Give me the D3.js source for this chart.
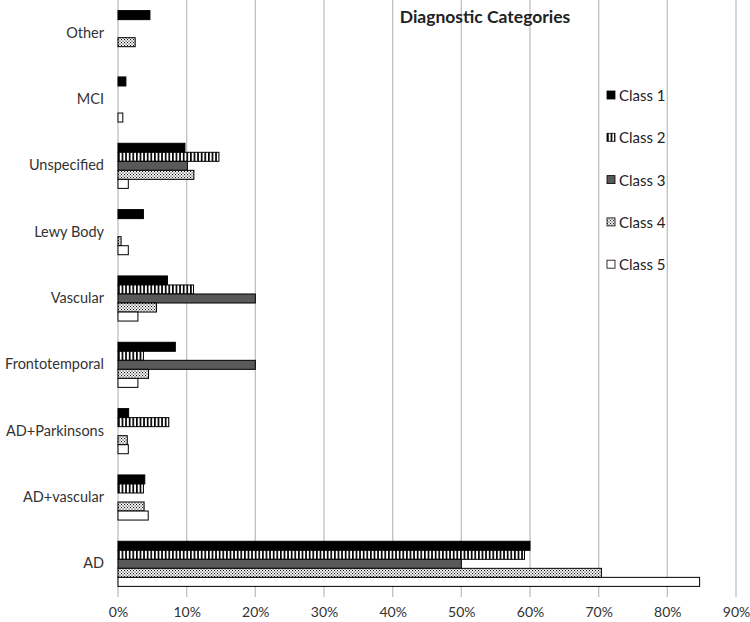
<!DOCTYPE html>
<html>
<head>
<meta charset="utf-8">
<script src="https://cdn.jsdelivr.net/npm/d3@7"></script>
<style>
  body { margin: 0; background: #fff; }
  svg text { font-family: "Lato", "Open Sans", sans-serif; }
</style>
</head>
<body>
<div id="chart"></div>
<script>
// categories, top to bottom as drawn
var categories = ["Other", "MCI", "Unspecified", "Lewy Body", "Vascular", "Frontotemporal", "AD+Parkinsons", "AD+vascular", "AD"];
var classes = ["Class 1", "Class 2", "Class 3", "Class 4", "Class 5"];

// percentage values per class, same order as categories
var class1 = [4.65, 1.15, 9.75, 3.7, 7.2, 8.35, 1.55, 3.9, 60.0];
var class2 = [0, 0, 14.7, 0, 11.0, 3.7, 7.4, 3.7, 59.2];
var class3 = [0, 0, 10.1, 0, 20.0, 20.0, 0, 0, 50.0];
var class4 = [2.5, 0, 11.05, 0.45, 5.6, 4.45, 1.35, 3.8, 70.4];
var class5 = [0, 0.7, 1.5, 1.5, 2.9, 2.9, 1.5, 4.4, 84.7];

var xTicks = [0, 10, 20, 30, 40, 50, 60, 70, 80, 90];

var series = [class1, class2, class3, class4, class5];

var width = 750, height = 622;
var margin = { left: 118, right: 14, top: 0, bottom: 25 };

var svg = d3.select("#chart").append("svg")
    .attr("width", width)
    .attr("height", height);

// fill patterns
var defs = svg.append("defs");

var stripes = defs.append("pattern")
    .attr("id", "stripes")
    .attr("patternUnits", "userSpaceOnUse")
    .attr("width", 3.6).attr("height", 4);
stripes.append("rect").attr("width", 3.6).attr("height", 4).attr("fill", "#fff");
stripes.append("rect").attr("width", 1.7).attr("height", 4).attr("fill", "#000");

var dots = defs.append("pattern")
    .attr("id", "dots")
    .attr("patternUnits", "userSpaceOnUse")
    .attr("width", 3).attr("height", 3);
dots.append("rect").attr("width", 3).attr("height", 3).attr("fill", "#fff");
dots.append("rect").attr("x", 0).attr("y", 0).attr("width", 1.1).attr("height", 1.1).attr("fill", "#111");
dots.append("rect").attr("x", 1.5).attr("y", 1.5).attr("width", 1.1).attr("height", 1.1).attr("fill", "#111");

var fills = ["#000", "url(#stripes)", "#595959", "url(#dots)", "#fff"];

var plotW = width - margin.left - margin.right;
var plotH = height - margin.top - margin.bottom;

var g = svg.append("g")
    .attr("transform", "translate(" + margin.left + "," + margin.top + ")");

var x = d3.scaleLinear().domain([0, 90]).range([0, plotW]);
var y = d3.scaleBand().domain(categories).range([0, plotH]).paddingInner(0.32).paddingOuter(0.16);
var ySub = d3.scaleBand().domain(classes).range([0, y.bandwidth()]);

// gridlines
g.append("g")
    .attr("class", "grid")
    .selectAll("line")
    .data(xTicks)
    .enter().append("line")
    .attr("x1", function (d) { return x(d); })
    .attr("x2", function (d) { return x(d); })
    .attr("y1", 0)
    .attr("y2", plotH)
    .attr("stroke", "#c0c0c0")
    .attr("stroke-width", 1.3);

// x axis labels
var xAxis = d3.axisBottom(x)
    .tickValues(xTicks)
    .tickSize(0)
    .tickPadding(10)
    .tickFormat(function (d) { return d + "%"; });

var ax = g.append("g")
    .attr("transform", "translate(0," + plotH + ")")
    .call(xAxis);
ax.select(".domain").remove();
ax.selectAll("text").attr("font-size", "14px").attr("fill", "#333")
    .style("font-family", "Lato, sans-serif");

// y axis labels
var yAxis = d3.axisLeft(y).tickSize(0).tickPadding(14);
var ay = g.append("g").call(yAxis);
ay.select(".domain").remove();
ay.selectAll("text").attr("font-size", "14.5px").attr("fill", "#333")
    .style("font-family", "Lato, sans-serif");

// bars
series.forEach(function (vals, i) {
    var rows = vals.map(function (v, j) { return { cat: categories[j], value: v }; })
        .filter(function (d) { return d.value > 0; });
    g.append("g")
        .selectAll("rect")
        .data(rows)
        .enter().append("rect")
        .attr("x", x(0))
        .attr("y", function (d) { return y(d.cat) + ySub(classes[i]); })
        .attr("width", function (d) { return x(d.value) - x(0); })
        .attr("height", ySub.bandwidth())
        .attr("fill", fills[i])
        .attr("stroke", "#000")
        .attr("stroke-width", 1);
});

// title
svg.append("text")
    .attr("x", 485)
    .attr("y", 23)
    .attr("text-anchor", "middle")
    .attr("font-size", "17.5px")
    .attr("font-weight", "bold")
    .attr("fill", "#222")
    .text("Diagnostic Categories");

// legend
var legend = svg.append("g").attr("transform", "translate(607,96)");
classes.forEach(function (c, i) {
    var row = legend.append("g").attr("transform", "translate(0," + (i * 42.3) + ")");
    row.append("rect")
        .attr("x", 0).attr("y", -5)
        .attr("width", 8).attr("height", 8)
        .attr("fill", fills[i])
        .attr("stroke", "#000")
        .attr("stroke-width", 0.8);
    row.append("text")
        .attr("x", 12).attr("y", 5)
        .attr("font-size", "15px")
        .attr("fill", "#222")
        .text(c);
});
</script>
</body>
</html>
